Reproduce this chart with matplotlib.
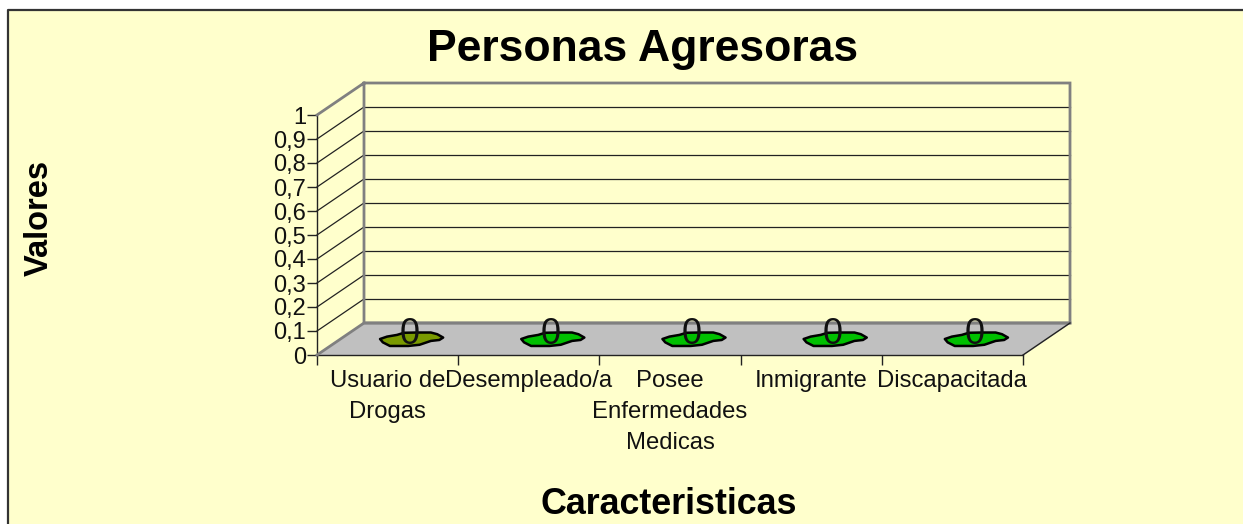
import numpy as np
import matplotlib
matplotlib.use('Agg')
import matplotlib.pyplot as plt

plt.rcParams['font.family'] = ['Liberation Sans', 'DejaVu Sans']

categorias = ['Usuario de\nDrogas', 'Desempleado/a', 'Posee\nEnfermedades\nMedicas', 'Inmigrante', 'Discapacitada']
valores = [0, 0, 0, 0, 0]
colores = ['#7a9a00', '#00c000', '#00c000', '#00c000', '#00c000']
ticks_y = [0, 0.1, 0.2, 0.3, 0.4, 0.5, 0.6, 0.7, 0.8, 0.9, 1]
etiquetas_y = ['0', '0,1', '0,2', '0,3', '0,4', '0,5', '0,6', '0,7', '0,8', '0,9', '1']

W, H = 1243, 524
fondo = '#ffffcc'
gris = '#808080'

fig = plt.figure(figsize=(W / 100, H / 100), dpi=100, facecolor='white')

# marco del grafico, sin borde a la derecha ni abajo
marco = fig.add_axes([0, 0, 1, 1])
marco.set_xlim(0, W)
marco.set_ylim(H, 0)
marco.axis('off')
marco.fill([8, W, W, 8], [10, 10, H, H], color=fondo, zorder=0)
marco.plot([8, 8, W], [H, 10, 10], color='#333333', lw=1.6, zorder=1)

# ejes frontales, la profundidad se hace con un desplazamiento
x0, x1, y_top, y_bot = 317, 1023, 115, 355
ax = fig.add_axes([x0 / W, 1 - y_bot / H, (x1 - x0) / W, (y_bot - y_top) / H])
ax.patch.set_alpha(0)
n = len(categorias)
ax.set_xlim(0, n)
ax.set_ylim(0, 1)
for s in ['top', 'right']:
    ax.spines[s].set_visible(False)
for s in ['left', 'bottom']:
    ax.spines[s].set_color('#222222')
    ax.spines[s].set_linewidth(1)

dx = 47 / (x1 - x0) * n
dy = 32 / (y_bot - y_top)

# pared y piso
ax.fill([0, n, n + dx, dx], [0, 0, dy, dy], color='#c0c0c0', zorder=1, clip_on=False)
for t in ticks_y[1:-1]:
    ax.plot([0, dx], [t, t + dy], color='#222222', lw=0.9, zorder=2, clip_on=False)
    ax.plot([dx, n + dx], [t + dy, t + dy], color='#222222', lw=0.9, zorder=2, clip_on=False)
ax.plot([0, dx, n + dx, n + dx, dx, dx], [1, 1 + dy, 1 + dy, dy, dy, 1 + dy], color=gris, lw=2, zorder=3, clip_on=False, solid_joinstyle='miter')
ax.plot([n + dx, dx, 0], [dy, dy, 0], color=gris, lw=2, zorder=3, clip_on=False)
ax.plot([n, n + dx], [0, dy], color='#222222', lw=1, zorder=3, clip_on=False)

# barras de altura cero, manchas sobre el piso
forma_x = np.array([-.22, -.17, -.1, -.05, .04, .14, .185, .227, .2, .14, .06, -.02, -.15, -.2])
forma_y = np.array([0, .01, .017, .026, .027, .027, .02, .006, -.004, -.008, -.024, -.029, -.029, -.014])
for i, (v, c) in enumerate(zip(valores, colores)):
    cx = i + 0.5 + dx / 2
    cy = v + dy / 2
    ax.fill(cx + forma_x, cy + forma_y, facecolor=c, edgecolor='black', lw=1.8, joinstyle='round', zorder=4, clip_on=False)
    ax.text(cx - 0.012, cy + 0.018, str(v), ha='center', va='center', fontsize=26, color='#111111', zorder=5)

ax.set_yticks(ticks_y)
ax.set_yticklabels(etiquetas_y, fontsize=17, color='#111111')
ax.set_xticks(np.arange(n + 1))
ax.set_xticklabels([])
ax.tick_params(axis='both', length=7, width=1, color='#222222')
ax.tick_params(axis='y', pad=1)
for i, cat in enumerate(categorias):
    ax.annotate(cat, (i + 0.5, 0), xytext=(0, -11), textcoords='offset points', ha='center', va='top',
                fontsize=17.2, color='#111111', linespacing=1.53)

marco.text(643, 49, 'Personas Agresoras', fontsize=32, fontweight='bold', ha='center', va='center', color='black')
marco.text(39, 218, 'Valores', fontsize=23.5, fontweight='bold', rotation=90, ha='center', va='center', color='black')
marco.text(669, 504, 'Caracteristicas', fontsize=25.8, fontweight='bold', ha='center', va='center', color='black')

fig.savefig('out.png', dpi=100)
